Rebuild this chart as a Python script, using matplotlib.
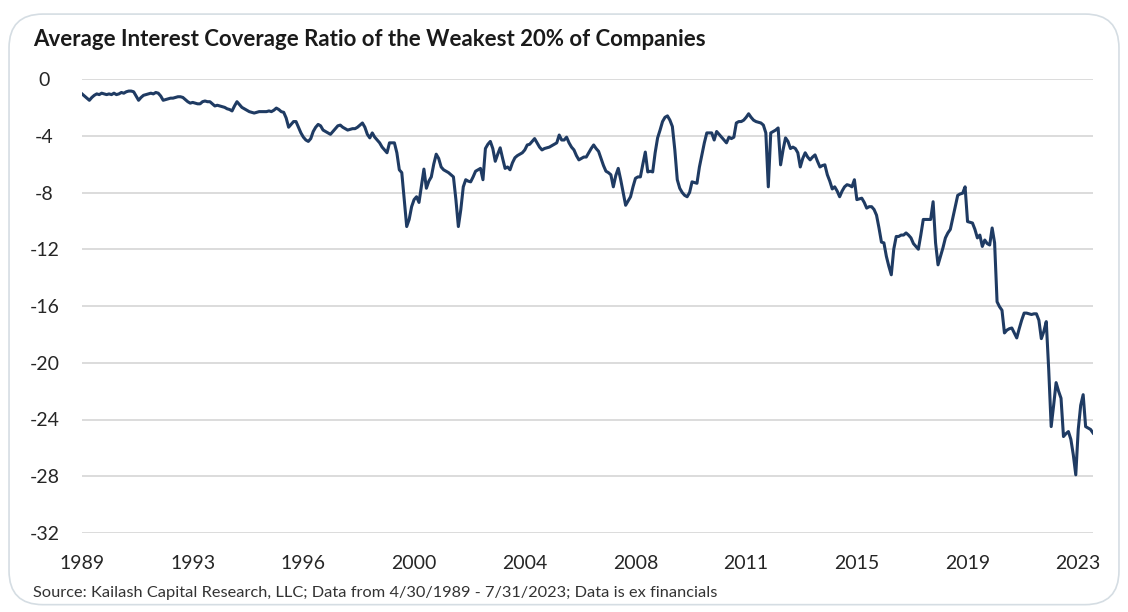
import numpy as np
import matplotlib
matplotlib.use("Agg")
from matplotlib import pyplot as plt
from matplotlib.patches import FancyBboxPatch

# monthly values, 4/30/1989 - 7/31/2023
ratio = [
    -1.05, -1.2, -1.35, -1.5, -1.3, -1.15, -1.05, -1.1, -1.0, -1.05, -1.1, -1.05,
    -1.1, -1.0, -1.1, -1.05, -0.95, -1.0, -0.9, -0.85, -0.85, -0.9, -1.2, -1.5,
    -1.3, -1.15, -1.1, -1.05, -1.0, -1.05, -0.95, -1.0, -1.2, -1.5, -1.45, -1.4,
    -1.35, -1.35, -1.3, -1.25, -1.25, -1.3, -1.45, -1.6, -1.7, -1.65, -1.7, -1.75,
    -1.75, -1.6, -1.55, -1.6, -1.6, -1.75, -1.9, -1.85, -1.9, -1.95, -2.0, -2.1,
    -2.15, -2.25, -1.9, -1.6, -1.8, -2.0, -2.1, -2.2, -2.3, -2.35, -2.4, -2.35,
    -2.3, -2.3, -2.3, -2.3, -2.25, -2.3, -2.2, -2.05, -2.15, -2.3, -2.35, -2.75,
    -3.4, -3.2, -3.0, -3.0, -3.4, -3.8, -4.1, -4.3, -4.4, -4.2, -3.7, -3.4,
    -3.2, -3.3, -3.6, -3.7, -3.8, -3.9, -3.7, -3.5, -3.3, -3.25, -3.4, -3.5,
    -3.6, -3.55, -3.5, -3.5, -3.4, -3.25, -3.1, -3.4, -3.9, -4.15, -3.8, -4.1,
    -4.3, -4.5, -4.8, -5.0, -5.2, -4.5, -4.5, -4.5, -5.2, -6.4, -6.6, -8.5,
    -10.4, -9.9, -9.0, -8.5, -8.3, -8.7, -7.5, -6.35, -7.7, -7.2, -6.9, -6.0,
    -5.3, -5.6, -6.2, -6.4, -6.5, -6.6, -6.75, -6.9, -8.5, -10.4, -9.2, -7.6,
    -7.1, -7.2, -7.25, -6.9, -6.5, -6.4, -6.3, -7.1, -4.9, -4.6, -4.4, -4.9,
    -5.8, -5.3, -4.85, -5.6, -6.3, -6.2, -6.4, -5.9, -5.55, -5.4, -5.3, -5.2,
    -5.0, -4.65, -4.6, -4.4, -4.2, -4.5, -4.8, -5.0, -4.9, -4.85, -4.8, -4.7,
    -4.6, -4.5, -3.95, -4.3, -4.3, -4.1, -4.5, -4.8, -5.0, -5.4, -5.7, -5.6,
    -5.5, -5.5, -5.2, -4.9, -4.65, -4.9, -5.1, -5.6, -6.1, -6.5, -6.6, -6.75,
    -7.6, -6.8, -6.3, -7.1, -8.0, -8.9, -8.6, -8.3, -7.6, -7.0, -6.9, -6.9,
    -6.0, -5.15, -6.55, -6.5, -6.55, -5.2, -4.15, -3.6, -3.0, -2.7, -2.6, -2.9,
    -3.35, -5.0, -7.1, -7.7, -8.0, -8.2, -8.3, -8.0, -7.25, -7.3, -7.35, -6.2,
    -5.35, -4.5, -3.8, -3.8, -3.8, -4.3, -3.7, -3.9, -4.1, -4.3, -4.5, -4.1,
    -4.2, -4.1, -3.1, -3.0, -3.0, -2.9, -2.7, -2.45, -2.7, -2.9, -3.0, -3.05,
    -3.1, -3.25, -3.8, -7.6, -3.8, -3.7, -3.6, -3.45, -6.05, -5.0, -4.15, -4.4,
    -4.9, -4.8, -4.9, -5.2, -6.2, -5.6, -5.2, -5.5, -5.7, -5.5, -5.35, -5.8,
    -6.2, -6.1, -6.05, -6.75, -7.2, -7.75, -7.6, -7.9, -8.3, -7.9, -7.6, -7.45,
    -7.5, -7.6, -7.1, -8.5, -8.45, -8.4, -8.7, -9.1, -9.0, -9.0, -9.2, -9.6,
    -10.5, -11.5, -11.55, -12.5, -13.2, -13.8, -12.0, -11.1, -11.1, -11.0, -11.0, -10.85,
    -11.0, -11.2, -11.6, -11.8, -12.0, -11.0, -9.9, -9.9, -9.9, -9.9, -8.65, -11.55,
    -13.1, -12.5, -11.9, -11.2, -10.85, -10.6, -9.8, -9.0, -8.2, -8.1, -8.05, -7.6,
    -10.05, -10.1, -10.15, -10.6, -11.2, -11.0, -11.8, -11.35, -11.6, -11.7, -10.5, -11.55,
    -15.7, -16.05, -16.3, -17.9, -17.7, -17.6, -17.55, -17.9, -18.25, -17.6, -17.0, -16.5,
    -16.5, -16.55, -16.6, -16.55, -16.55, -17.0, -18.3, -17.8, -17.1, -20.5, -24.5, -23.0,
    -21.4, -22.0, -22.5, -25.2, -25.0, -24.85, -25.4, -26.5, -27.9, -24.7, -23.0, -22.25,
    -24.5, -24.6, -24.7, -24.95,
]

# category labels, one every 45 months
year_labels = ["1989", "1993", "1996", "2000", "2004", "2008", "2011", "2015", "2019", "2023"]
label_step = 45
y_ticks = [0, -4, -8, -12, -16, -20, -24, -28, -32]

title = "Average Interest Coverage Ratio of the Weakest 20% of Companies"
source = "Source: Kailash Capital Research, LLC; Data from 4/30/1989 - 7/31/2023; Data is ex financials"

plt.rcParams["font.family"] = ["Lato", "DejaVu Sans"]

fig = plt.figure(figsize=(11.28, 6.12), dpi=100)
fig.patch.set_facecolor("white")

# rounded frame around the card
frame = FancyBboxPatch((0.008, 0.012), 0.984, 0.965,
                       boxstyle="round,pad=0,rounding_size=0.03",
                       transform=fig.transFigure, facecolor="none",
                       edgecolor="#d5dde3", linewidth=1.2, mutation_aspect=1128 / 612)
fig.patches.append(frame)

ax = fig.add_axes([82 / 1128, 1 - 533 / 612, (1093 - 82) / 1128, (533 - 79) / 612])

x = np.arange(len(ratio))
ax.plot(x, ratio, color="#1f3b63", linewidth=2.2, solid_joinstyle="round", zorder=3)

ax.set_xlim(0, len(ratio) - 1)
ax.set_ylim(-32, 0)
ax.set_yticks(y_ticks)
ax.set_yticklabels([str(v) for v in y_ticks])
ax.set_xticks(np.arange(len(year_labels)) * label_step)
ax.set_xticklabels(year_labels)

ax.grid(axis="y", color="#d9d9d9", linewidth=1.3)
ax.set_axisbelow(True)
for s in ax.spines.values():
    s.set_visible(False)
ax.tick_params(axis="both", length=0, labelsize=14, labelcolor="#262626")
ax.tick_params(axis="y", pad=27)
ax.tick_params(axis="x", pad=16)
for lab in ax.get_yticklabels():
    lab.set_horizontalalignment("center")

fig.text(33 / 1128, 1 - 40 / 612, title, fontsize=16, fontweight="bold",
         color="#1a1a1a", ha="left", va="center")
fig.text(33 / 1128, 1 - 593 / 612, source, fontsize=11.8, color="#333333",
         ha="left", va="center")

fig.savefig("out.png", dpi=100, facecolor="white")
